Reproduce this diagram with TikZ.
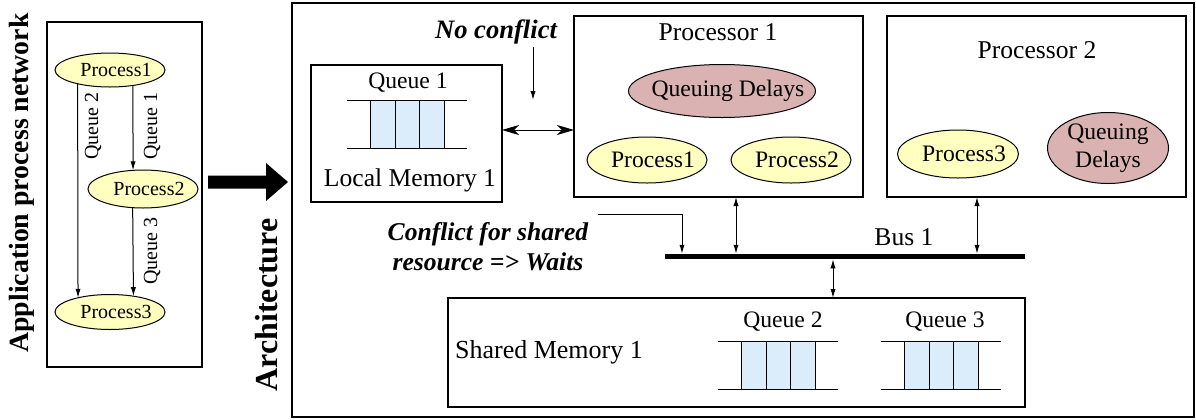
\documentclass[tikz,border=0pt]{standalone}
\usepackage{fontspec}
\setmainfont{Liberation Serif}
\usetikzlibrary{shapes.geometric,arrows.meta}
\definecolor{procyellow}{RGB}{255,255,191}
\definecolor{delaypink}{RGB}{219,178,178}
\definecolor{cellblue}{RGB}{219,237,250}

\begin{document}
\begin{tikzpicture}[x=0.5pt,y=-0.5pt,
  box/.style={draw, line width=0.6pt, rectangle, inner sep=0pt, outer sep=0pt},
  procell/.style={ellipse, draw, line width=0.5pt, fill=procyellow, inner sep=0pt, outer sep=0pt},
  delayell/.style={ellipse, draw, line width=0.5pt, fill=delaypink, inner sep=0pt, outer sep=0pt},
  smalltxt/.style={inner sep=0pt, font=\fontsize{10}{12}\selectfont},
  midtxt/.style={inner sep=0pt, font=\fontsize{11.8}{14}\selectfont},
  bigtxt/.style={inner sep=0pt, font=\fontsize{12.8}{15}\selectfont},
  bitxt/.style={inner sep=0pt, align=center, font=\bfseries\itshape\fontsize{12.8}{15}\selectfont},
  inlbl/.style={inner sep=0pt, xshift=3pt},
  arr/.style={-{Latex[length=4.5pt,width=2.6pt]}, line width=0.5pt},
  biarr/.style={{Latex[length=4.5pt,width=2.6pt]}-{Latex[length=4.5pt,width=2.6pt]}, line width=0.5pt},
  wideboth/.style={{Stealth[length=8.5pt,width=5pt,inset=2.5pt]}-{Stealth[length=8.5pt,width=5pt,inset=2.5pt]}, line width=0.5pt},
  fifo/.pic={
    \draw[line width=0.5pt] (0,0) -- (120,0) (0,48) -- (120,48);
    \foreach \i in {0,1,2}
      \filldraw[fill=cellblue, line width=0.5pt] ({23.5+24.5*\i},0) rectangle ++(24.5,48);
  }
]
\useasboundingbox (0,0) rectangle (1196,419);

% ---------------- application process network ----------------
\node[box, line width=1pt, minimum width=77.5pt, minimum height=172.5pt] (app) at (124.5,194.5) {};
\node[rotate=90, inner sep=0pt, font=\bfseries\fontsize{13.9}{16}\selectfont] (apptitle) at (22,183) {Application process network};

\node[procell, minimum width=55pt, minimum height=17pt,
      label={[inlbl, smalltxt]center:Process1}] (a1) at (110,70) {};
\node[procell, minimum width=55pt, minimum height=19pt,
      label={[inlbl, smalltxt]center:Process2}] (a2) at (143,189) {};
\node[procell, minimum width=55pt, minimum height=17.5pt,
      label={[inlbl, smalltxt]center:Process3}] (a3) at (110,312) {};

\draw[arr] (a1.203.3) -- (a3.156.1);
\draw[arr] (a1.326.2) -- (a2.118.1);
\draw[arr] (a2.241.9) -- (a3.34.7);

\node[smalltxt, rotate=90] (aq2) at (93,126) {Queue 2};
\node[smalltxt, rotate=90] (aq1) at (152,126) {Queue 1};
\node[smalltxt, rotate=90] (aq3) at (152,251) {Queue 3};

% ---------------- mapping arrow ----------------
\fill (208,175.5) -- (266,175.5) -- (266,163) -- (288,182) -- (266,201) -- (266,188.5) -- (208,188.5) -- cycle;

% ---------------- architecture ----------------
\node[box, line width=1.3pt, minimum width=451pt, minimum height=207pt] (arch) at (743,210) {};
\node[rotate=90, inner sep=0pt, font=\bfseries\fontsize{16}{18}\selectfont] (archtitle) at (267,305) {Architecture};

% local memory
\node[box, minimum width=95.5pt, minimum height=68.5pt] (lm) at (406.5,133.5) {};
\node[midtxt] (q1t) at (408,83) {Queue 1};
\pic at (347,100) {fifo};
\node[bigtxt] (lmt) at (410,180) {Local Memory 1};

% processor 1
\node[box, minimum width=144.5pt, minimum height=90.5pt] (p1) at (718.5,106.5) {};
\node[bigtxt] (p1t) at (718,32) {Processor 1};
\node[delayell, minimum width=93.5pt, minimum height=26.5pt,
      label={[inlbl, midtxt]center:Queuing Delays}] (qd1) at (722,91) {};
\node[procell, minimum width=60pt, minimum height=23pt,
      label={[inlbl, midtxt]center:Process1}] (pa) at (647,160) {};
\node[procell, minimum width=60pt, minimum height=23pt,
      label={[inlbl, midtxt]center:Process2}] (pb) at (791,160) {};

% processor 2
\node[box, minimum width=149.5pt, minimum height=90.5pt] (p2) at (1036.5,106.5) {};
\node[bigtxt] (p2t) at (1037,50) {Processor 2};
\node[procell, minimum width=60.5pt, minimum height=24pt,
      label={[inlbl, midtxt]center:Process3}] (pc) at (958,154) {};
\node[delayell, minimum width=60.5pt, minimum height=35.5pt,
      label={[inner sep=0pt, midtxt, align=center]center:Queuing\\Delays}] (qd2) at (1108,148) {};

% bus
\node[fill=black, inner sep=0pt, outer sep=0pt, minimum width=180pt, minimum height=2.75pt] (bus) at (845,256.5) {};
\node[bigtxt] (bust) at (904,237) {Bus 1};

% shared memory
\node[box, minimum width=288.5pt, minimum height=54.5pt] (sm) at (736.5,352.5) {};
\node[bigtxt, font=\fontsize{13}{15}\selectfont] (smt) at (549,352) {Shared Memory 1};
\node[midtxt] (q2t) at (783,322) {Queue 2};
\node[midtxt] (q3t) at (945,322) {Queue 3};
\pic at (718,341) {fifo};
\pic at (881,341) {fifo};

% annotations
\node[bitxt, font=\bfseries\itshape\fontsize{13.3}{15}\selectfont] (nc) at (496,32) {No conflict};
\node[bitxt] (cf) at (488,247) {Conflict for shared\\resource => Waits};
\coordinate (ncstart) at (533,47);
\coordinate (ncend) at (533,100);
\coordinate (cfstart) at (598,214);
\coordinate (cfend) at (682,0);

% connectors
\draw[arr] (ncstart) -- (ncend);
\draw[wideboth] (lm.east |- 0,130) -- (p1.west |- 0,130);
\draw[biarr] (p1.south -| 736,0) -- (bus.north -| 736,0);
\draw[biarr] (p2.south -| 977,0) -- (bus.north -| 977,0);
\draw[biarr] (bus.south -| 833,0) -- (sm.north -| 833,0);
\draw[arr] (cfstart) -| (bus.north -| cfend);
\end{tikzpicture}
\end{document}
